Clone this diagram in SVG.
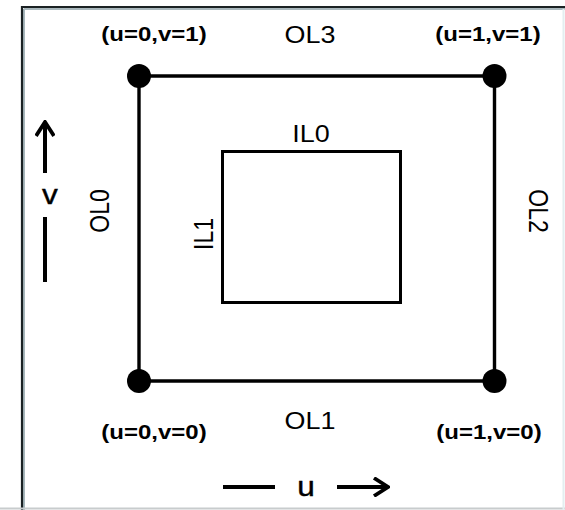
<svg xmlns="http://www.w3.org/2000/svg" width="565" height="510" viewBox="0 0 565 510">
<style>
  .lbl { font-family: "Liberation Sans", Arial, sans-serif; fill: #000; text-anchor: middle; }
  .coord { font-size: 20.5px; font-weight: bold; }
  .edge { font-size: 23px; }
  .axis { font-size: 27px; stroke: #000; stroke-width: 0.4px; }
  .ln { stroke: #000; fill: none; stroke-linecap: butt; }
</style>
<defs>
  <marker id="arr" viewBox="0 0 20 20" refX="18" refY="10" markerWidth="20" markerHeight="20" markerUnits="userSpaceOnUse" orient="auto">
    <path d="M4,1 L18,10 L4,19" fill="none" stroke="#000" stroke-width="3.8" stroke-linejoin="miter"/>
  </marker>
</defs>
<rect x="0" y="0" width="565" height="510" fill="#fff"/>
<g id="frame">
  <line x1="24" y1="9" x2="565" y2="9" stroke="#a9b8bd" stroke-width="2"/>
  <line x1="24" y1="9" x2="24" y2="510" stroke="#a9b8bd" stroke-width="2"/>
  <line x1="21" y1="7" x2="565" y2="7" stroke="#1b2224" stroke-width="2.2"/>
  <line x1="22" y1="6" x2="22" y2="510" stroke="#1b2224" stroke-width="2.2"/>
  <line x1="0" y1="508.5" x2="565" y2="508.5" stroke="#c8cccd" stroke-width="2"/>
  <line x1="563.5" y1="9" x2="563.5" y2="510" stroke="#e3eef0" stroke-width="2"/>
</g>
<g id="connectors">
  <g id="outer">
    <line class="ln" x1="139" y1="76" x2="494.5" y2="76" stroke-width="3.4"/>
    <line class="ln" x1="139" y1="381" x2="494.5" y2="381" stroke-width="3.4"/>
    <line class="ln" x1="139" y1="76" x2="139" y2="381" stroke-width="3.4"/>
    <line class="ln" x1="494.5" y1="76" x2="494.5" y2="381" stroke-width="3.4"/>
  </g>
  <line class="ln" x1="45" y1="173" x2="45" y2="122" stroke-width="4" marker-end="url(#arr)"/>
  <line class="ln" x1="45" y1="217" x2="45" y2="282" stroke-width="4"/>
  <line class="ln" x1="223" y1="487" x2="275" y2="487" stroke-width="4"/>
  <line class="ln" x1="337" y1="487" x2="388" y2="487" stroke-width="4" marker-end="url(#arr)"/>
</g>
<g id="inner">
  <rect x="222.5" y="151.5" width="178" height="151" fill="none" stroke="#000" stroke-width="3"/>
</g>
<g id="v00"><circle cx="139" cy="381" r="12" fill="#000"/></g>
<g id="v10"><circle cx="494.5" cy="381" r="12" fill="#000"/></g>
<g id="v01"><circle cx="139" cy="76" r="12" fill="#000"/></g>
<g id="v11"><circle cx="494.5" cy="76" r="12" fill="#000"/></g>
<g id="labels">
  <text class="lbl coord" transform="translate(154,41) scale(1.17,1)">(u=0,v=1)</text>
  <text class="lbl coord" transform="translate(488,41) scale(1.17,1)">(u=1,v=1)</text>
  <text class="lbl coord" transform="translate(154,439) scale(1.17,1)">(u=0,v=0)</text>
  <text class="lbl coord" transform="translate(489,439) scale(1.17,1)">(u=1,v=0)</text>
  <text class="lbl edge" transform="translate(310,43) scale(1.17,1)">OL3</text>
  <text class="lbl edge" transform="translate(310,429) scale(1.17,1)">OL1</text>
  <text class="lbl edge" transform="translate(311,142) scale(1.17,1)">IL0</text>
  <text class="lbl edge" transform="translate(109,211) scale(1.17,1) rotate(-90)">OL0</text>
  <text class="lbl edge" transform="translate(213,234) scale(1.17,1) rotate(-90)">IL1</text>
  <text class="lbl edge" transform="translate(529,211) scale(1.17,1) rotate(90)">OL2</text>
  <text class="lbl axis" transform="translate(50,204) scale(1.17,1)">v</text>
  <text class="lbl axis" transform="translate(306,496) scale(1.17,1)">u</text>
</g>
</svg>
